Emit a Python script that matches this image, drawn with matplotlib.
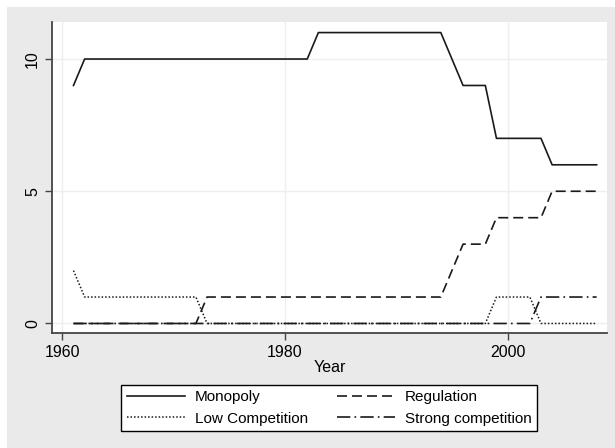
import numpy as np
import matplotlib
matplotlib.use('Agg')
import matplotlib.pyplot as plt
from matplotlib.patches import Rectangle

plt.rcParams['font.family'] = ['Liberation Sans', 'DejaVu Sans']

# Dados
anos = list(range(1961, 2009))
monopolio = [9] + [10] * 21 + [11] * 12 + [10, 9, 9, 9] + [7] * 5 + [6] * 5
regulacao = [0] * 12 + [1] * 22 + [2, 3, 3, 3] + [4] * 5 + [5] * 5
baixa_comp = [2] + [1] * 11 + [0] * 26 + [1] * 4 + [0] * 6
forte_comp = [0] * 42 + [1] * 6

fig = plt.figure(figsize=(6.15, 4.48), dpi=100)
fig.patch.set_facecolor('white')
fig.patches.append(Rectangle((7 / 615, 0), 1, 1 - 7 / 448, transform=fig.transFigure,
                             facecolor='#eaeaea', edgecolor='none', zorder=-10))

ax = fig.add_axes([52 / 615, (448 - 333) / 448, 555 / 615, 311 / 448])
ax.set_facecolor('white')

cor = '#1a1a1a'
l1, = ax.plot(anos, monopolio, color=cor, lw=1.2, linestyle='-', label='Monopoly')
l3, = ax.plot(anos, regulacao, color=cor, lw=1.2, linestyle=(0, (6, 3)), label='Regulation')
l2, = ax.plot(anos, baixa_comp, color=cor, lw=1.1, linestyle=(0, (1, 1.3)), label='Low Competition')
l4, = ax.plot(anos, forte_comp, color=cor, lw=1.2, linestyle=(0, (8, 2.5, 1, 2.5)),
              label='Strong competition')

ax.set_xlim(1959.07, 2008.93)
ax.set_ylim(-0.36, 11.4)
ax.set_xticks([1960, 1980, 2000])
ax.set_yticks([0, 5, 10])
ax.set_yticklabels(['0', '5', '10'], rotation=90, va='center')
ax.tick_params(axis='both', labelsize=11.5, length=5, width=1, color='#444444', direction='out')
ax.grid(True, color='#eeeeee', lw=1)
ax.set_axisbelow(True)
for lado in ['top', 'right']:
    ax.spines[lado].set_visible(False)
for lado in ['left', 'bottom']:
    ax.spines[lado].set_color('#444444')
    ax.spines[lado].set_linewidth(1.3)
ax.set_xlabel('Year', fontsize=11.5, labelpad=0)

leg = fig.legend(handles=[l1, l2, l3, l4], ncol=2, loc='center',
                 bbox_to_anchor=(329 / 615, 1 - 408 / 448), fontsize=11,
                 frameon=True, fancybox=False, edgecolor='black', facecolor='white',
                 framealpha=1, handlelength=3.8, handletextpad=0.65, columnspacing=1.9,
                 borderpad=0.35, labelspacing=0.5, borderaxespad=0)
leg.get_frame().set_linewidth(1)

plt.savefig('out.png', dpi=100)
